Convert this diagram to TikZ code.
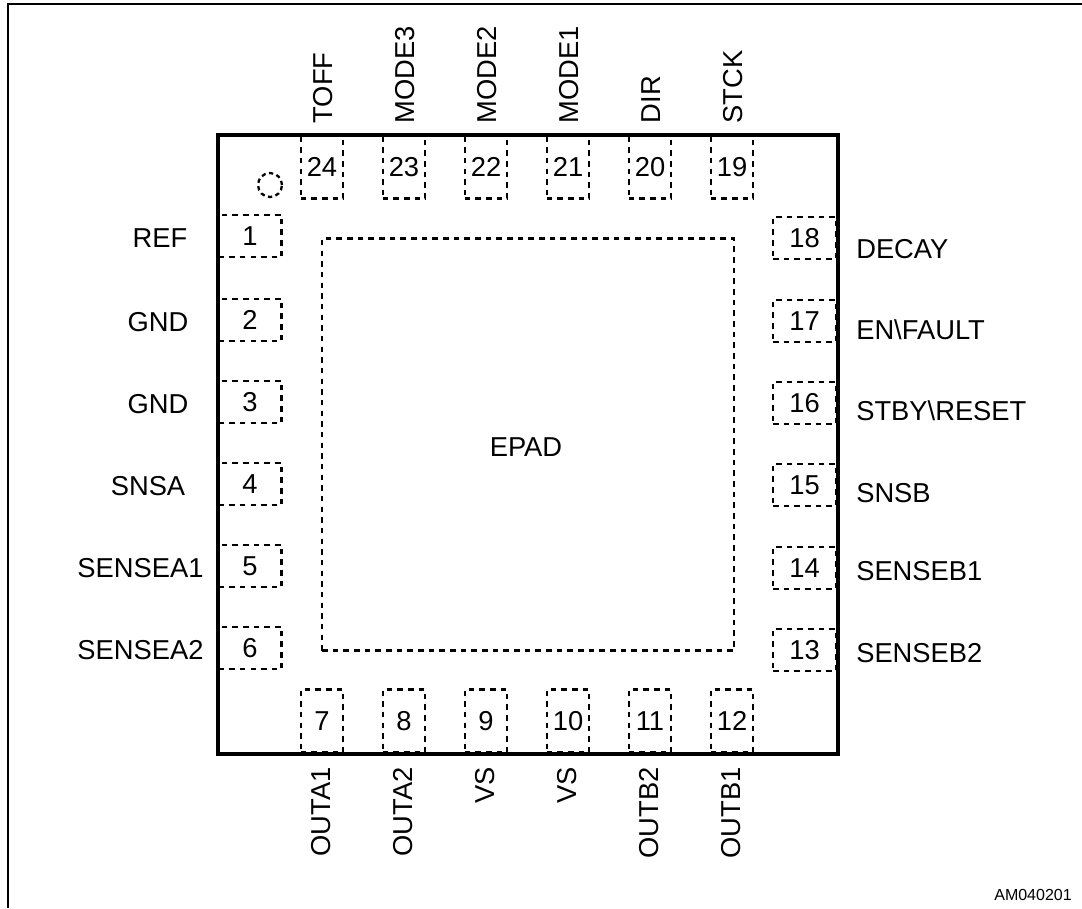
\documentclass[tikz,border=0pt]{standalone}
\usepackage{fontspec}
\setmainfont{Liberation Sans}
\tikzset{
  padline/.style={draw=black,line width=1.7pt,dash pattern=on 4.2pt off 3.8pt},
  hpad/.style={padline,minimum width=47.25pt,minimum height=32pt,inner sep=0pt,font=\fontsize{20.5}{22}\selectfont},
  vpad/.style={padline,minimum width=32pt,minimum height=47.25pt,inner sep=0pt,font=\fontsize{20.5}{22}\selectfont},
  lab/.style={inner sep=0pt,font=\fontsize{20.5}{22}\selectfont},
  vlab/.style={lab,rotate=90},
}
\begin{document}
\begin{tikzpicture}[x=0.75pt,y=-0.75pt]
\useasboundingbox (0,0) rectangle (1082,908);
\draw[line width=1.5pt,line cap=butt] (1082,4) -- (8,4) -- (8,908);
\node[draw=black,line width=2.9pt,minimum width=464.6pt,minimum height=464.2pt,inner sep=0pt] (pkg) at (528,444.7) {};
\node[padline,minimum width=309pt,minimum height=309pt,inner sep=0pt] (epad) at (528,444.5) {};
\node[lab] (epadl) at (526,447) {EPAD};
\node[padline,circle,minimum size=18pt,inner sep=0pt,dash pattern=on 3.2pt off 2.6pt] (dot) at (270,185) {};
% left pads
\foreach \n/\y/\t/\lx in {1/236/REF/160,2/320/GND/158,3/402/GND/158,4/484/SNSA/148,5/566/SENSEA1/140.5,6/648/SENSEA2/140.5}{
  \node[hpad] (p\n) at (250,\y) {\n};
  \node[lab] (l\n) at (\lx,\y+2) {\t};
}
% right pads
\foreach \n/\y/\t/\ly in {18/238/DECAY/249,17/321/EN\textbackslash FAULT/330,16/403/STBY\textbackslash RESET/411,15/485/SNSB/493,14/568/SENSEB1/571,13/650/SENSEB2/653}{
  \node[hpad] (p\n) at (804.5,\y) {\n};
  \node[lab,anchor=west] (l\n) at (856,\ly) {\t};
}
% top pads
\foreach \n/\x/\t in {24/322/TOFF,23/404/MODE3,22/486/MODE2,21/568/MODE1,20/650/DIR,19/732/STCK}{
  \node[vpad] (p\n) at (\x,167) {\n};
  \node[vlab,anchor=west] (l\n) at (\x+1,123.5) {\t};
}
% bottom pads
\foreach \n/\x/\t in {7/322/OUTA1,8/404/OUTA2,9/486/VS,10/568/VS,11/650/OUTB2,12/732/OUTB1}{
  \node[vpad] (p\n) at (\x,721) {\n};
  \node[vlab,anchor=east] (l\n) at (\x-1,767) {\t};
}
\node[inner sep=0pt,anchor=east,font=\fontsize{12}{13}\selectfont] (code) at (1072,895) {AM040201};
\end{tikzpicture}
\end{document}
